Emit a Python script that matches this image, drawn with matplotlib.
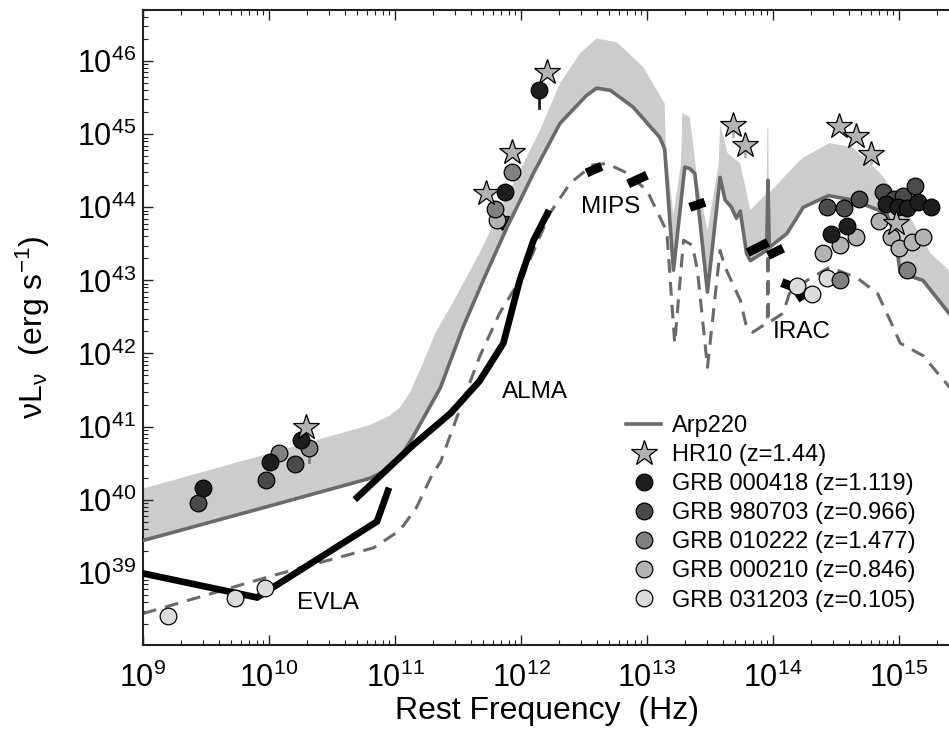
import numpy as np
import matplotlib
matplotlib.use("Agg")
import matplotlib.pyplot as plt
from matplotlib.lines import Line2D
from matplotlib.ticker import FixedLocator, LogLocator, NullFormatter, LogFormatterSciNotation

plt.rcParams['font.family'] = ['Liberation Sans', 'DejaVu Sans']
plt.rcParams['mathtext.fontset'] = 'custom'
plt.rcParams['mathtext.rm'] = 'Liberation Sans'
plt.rcParams['mathtext.it'] = 'Liberation Sans:italic'

# ---------------- data (log10 frequency [Hz], log10 nuL_nu [erg/s]) ----------------
arp_lx = [9.0, 10.0, 10.80, 10.95, 11.05, 11.14, 11.36, 11.54, 11.70, 11.89, 12.10, 12.31,
          12.52, 12.60, 12.71, 12.89, 13.10, 13.14, 13.21, 13.30, 13.34, 13.38, 13.48, 13.58,
          13.62, 13.67, 13.71, 13.74, 13.79, 13.82, 13.95, 13.96, 13.97, 14.11, 14.19, 14.24,
          14.44, 14.63, 14.90, 14.97, 15.01, 15.19, 15.42]
arp_ly = [39.44, 39.91, 40.29, 40.42, 40.60, 40.85, 41.53, 42.36, 43.00, 43.73, 44.47, 45.15,
          45.53, 45.63, 45.60, 45.37, 44.96, 44.80, 43.14, 44.55, 44.53, 44.46, 42.84, 44.41,
          44.10, 44.00, 43.85, 43.95, 43.37, 43.27, 43.41, 44.37, 43.45, 43.64, 43.86, 44.00,
          44.16, 44.10, 43.92, 43.60, 43.10, 43.00, 42.50]

band_lx = [9.0, 10.0, 10.80, 10.95, 11.04, 11.12, 11.22, 11.32, 11.47, 11.67, 11.94, 12.15,
           12.31, 12.47, 12.60, 12.76, 12.97, 13.14, 13.15, 13.21, 13.27, 13.28, 13.34, 13.40,
           13.48, 13.57, 13.58, 13.64, 13.74, 13.82, 13.95, 13.955, 13.962, 13.967, 14.19,
           14.24, 14.45, 14.63, 14.85, 15.01, 15.25, 15.42]
band_ly = [40.15, 40.63, 41.02, 41.14, 41.26, 41.47, 41.86, 42.28, 42.73, 43.37, 44.33, 45.05,
           45.70, 46.11, 46.31, 46.26, 45.92, 45.42, 44.82, 43.90, 44.60, 45.29, 45.23, 44.37,
           43.68, 44.60, 45.15, 44.74, 44.60, 43.96, 44.19, 45.08, 45.08, 44.19, 44.60,
           44.68, 44.88, 44.82, 44.47, 44.10, 43.37, 43.10]

dash_lx = [9.0, 10.03, 10.83, 11.04, 11.17, 11.30, 11.36, 11.52, 11.67, 11.83, 11.94, 12.00,
           12.23, 12.39, 12.57, 12.68, 12.84, 13.00, 13.14, 13.16, 13.22, 13.29, 13.36, 13.40,
           13.48, 13.58, 13.62, 13.74, 13.79, 13.84, 13.955, 13.96, 13.965, 14.08, 14.13,
           14.27, 14.45, 14.67, 14.83, 14.93, 15.01, 15.19, 15.42]
dash_ly = [38.44, 38.96, 39.34, 39.58, 39.89, 40.36, 40.51, 41.26, 41.95, 42.55, 42.86, 43.00,
           43.92, 44.33, 44.58, 44.60, 44.47, 44.23, 43.73, 43.60, 42.14, 43.55, 43.48, 43.14,
           41.81, 43.41, 43.18, 42.73, 42.36, 42.29, 42.42, 43.37, 42.42, 42.55, 42.82,
           43.00, 43.18, 43.03, 42.82, 42.45, 42.14, 41.97, 41.50]

evla_lx = [9.0, 9.905, 10.857, 10.944]
evla_ly = [38.99, 38.66, 39.70, 40.12]
alma_lx = [10.70, 11.14, 11.44, 11.67, 11.86, 11.99, 12.10, 12.21]
alma_ly = [40.03, 40.74, 41.18, 41.62, 42.14, 43.00, 43.55, 43.92]

mips_lx = [(12.52, 12.64), (12.85, 13.00), (13.34, 13.46)]
mips_ly = [(44.47, 44.56), (44.32, 44.44), (44.00, 44.07)]
irac_lx = [(13.80, 13.96), (13.96, 14.08), (14.07, 14.19), (14.19, 14.27)]
irac_ly = [(43.38, 43.52), (43.34, 43.44), (42.97, 42.89), (42.75, 42.84)]

hr10_lx = [10.29, 11.72, 11.93, 12.21, 13.68, 13.78, 14.52, 14.66, 14.78, 14.98]
hr10_ly = [41.00, 44.19, 44.75, 45.85, 45.12, 44.85, 45.11, 44.97, 44.73, 43.79]

g000418_lx = [9.48, 10.01, 10.25, 11.87, 12.14, 14.46, 14.59, 14.90, 14.99, 15.06, 15.15, 15.25]
g000418_ly = [40.16, 40.51, 40.81, 44.21, 45.60, 43.64, 43.75, 44.05, 44.01, 43.99, 44.07, 44.01]

g980703_lx = [9.44, 9.98, 10.21, 14.43, 14.56, 14.68, 14.87, 14.96, 15.03, 15.13]
g980703_ly = [39.96, 40.27, 40.49, 44.00, 43.99, 44.12, 44.21, 44.11, 44.15, 44.29]

g010222_lx = [10.08, 10.32, 11.79, 11.93, 14.53, 15.06]
g010222_ly = [40.64, 40.71, 43.97, 44.48, 43.01, 43.14]

g000210_lx = [11.81, 14.40, 14.53, 14.66, 14.84, 14.94, 15.00, 15.10, 15.19]
g000210_ly = [43.82, 43.37, 43.48, 43.60, 43.81, 43.60, 43.44, 43.53, 43.60]

g031203_lx = [9.20, 9.73, 9.97, 14.19, 14.31, 14.43]
g031203_ly = [38.41, 38.66, 38.79, 42.92, 42.82, 43.03]

# upper limit (triangle) and error bars
ulim_lx, ulim_ly = [11.85], [43.78]
err_lx = [12.14, 11.87, 10.32, 13.68, 13.78, 14.78]
err_lo = [45.36, 44.12, 40.52, 44.98, 44.70, 44.60]
err_hi = [45.60, 44.21, 40.71, 45.12, 44.85, 44.73]
err_col = ['#1e1e1e', '#1e1e1e', '#808080', '#b3b3b3', '#b3b3b3', '#b3b3b3']

labels = ['Arp220', 'HR10 (z=1.44)', 'GRB 000418 (z=1.119)', 'GRB 980703 (z=0.966)',
          'GRB 010222 (z=1.477)', 'GRB 000210 (z=0.846)', 'GRB 031203 (z=0.105)']
grb_colors = ['#1e1e1e', '#4a4a4a', '#808080', '#b3b3b3', '#dcdcdc']

x_decades = [9, 10, 11, 12, 13, 14, 15]
y_decades = [39, 40, 41, 42, 43, 44, 45, 46]

P = lambda a: 10 ** np.asarray(a, dtype=float)

# ---------------- figure ----------------
W, H = 949, 732
fig = plt.figure(figsize=(W / 100, H / 100), dpi=100)
ax = fig.add_axes([143 / W, 1 - 645 / H, 808 / W, 635 / H])
ax.set_xscale('log')
ax.set_yscale('log')
ax.set_xlim(1e9, 10 ** (9 + 808 / 126))
ax.set_ylim(10 ** 38.01, 10 ** 46.70)

# band
bx = np.r_[P(band_lx), P(arp_lx)[::-1]]
by = np.r_[P(band_ly), P(arp_ly)[::-1]]
ax.fill(bx, by, color='#cccccc', lw=0, zorder=1)

ax.plot(P(dash_lx), P(dash_ly), color='#6a6a6a', lw=2.2, ls=(0, (4.5, 3)), zorder=2)
ax.plot(P(arp_lx), P(arp_ly), color='#6a6a6a', lw=2.6, zorder=3)

ax.plot(P(evla_lx), P(evla_ly), color='black', lw=4.8, solid_joinstyle='miter', zorder=4)
ax.plot(P(alma_lx), P(alma_ly), color='black', lw=4.8, zorder=4)
for xs, ys in zip(mips_lx + irac_lx, mips_ly + irac_ly):
    ax.plot(P(xs), P(ys), color='black', lw=6.5, solid_capstyle='butt', zorder=4)

# error bars
for x, lo, hi, c in zip(err_lx, err_lo, err_hi, err_col):
    ax.plot([10 ** x, 10 ** x], [10 ** lo, 10 ** hi], color=c, lw=2, zorder=5)

mk = dict(ls='none', mec='black', mew=0.9, zorder=6)
ax.plot(P(ulim_lx), P(ulim_ly), marker='v', ms=10, mfc='#4a4a4a', **mk)
series = [(g031203_lx, g031203_ly), (g000210_lx, g000210_ly), (g010222_lx, g010222_ly),
          (g980703_lx, g980703_ly), (g000418_lx, g000418_ly)]
for (xs, ys), c in zip(series, grb_colors[::-1]):
    ax.plot(P(xs), P(ys), marker='o', ms=12, mfc=c, **mk)
ax.plot(P(hr10_lx), P(hr10_ly), marker='*', ms=19, mfc='#b3b3b3', **mk)

# annotations
txt = dict(fontsize=17.5, ha='left', va='center')
ax.text(10 ** 10.22, 10 ** 38.59, 'EVLA', **txt)
ax.text(10 ** 11.85, 10 ** 41.47, 'ALMA', **txt)
ax.text(10 ** 12.48, 10 ** 44.0, 'MIPS', **txt)
ax.text(10 ** 14.0, 10 ** 42.29, 'IRAC', **txt)

# legend
handles = [Line2D([], [], color='#6a6a6a', lw=2.6),
           Line2D([], [], marker='*', ms=19, mfc='#b3b3b3', mec='black', mew=0.9, ls='none')]
handles += [Line2D([], [], marker='o', ms=12, mfc=c, mec='black', mew=0.9, ls='none')
            for c in grb_colors]
fig.legend(handles, labels, loc='upper left', bbox_to_anchor=(626 / W, 1 - 415 / H),
           frameon=False, fontsize=17, borderpad=0, borderaxespad=0, labelspacing=0.3,
           handlelength=1.5, handletextpad=0.45)

# axes styling
ax.set_xlabel('Rest Frequency  (Hz)', fontsize=23)
ax.set_ylabel('νL$_\\mathregular{ν}$  (erg s$^\\mathregular{-1}$)', fontsize=23)
ax.xaxis.set_label_coords(0.5, -0.080)
ax.yaxis.set_label_coords(-0.113, 0.5)

ax.xaxis.set_major_locator(FixedLocator(P(x_decades)))
ax.yaxis.set_major_locator(FixedLocator(P(y_decades)))
ax.xaxis.set_major_formatter(LogFormatterSciNotation())
ax.yaxis.set_major_formatter(LogFormatterSciNotation())
ax.xaxis.set_minor_locator(LogLocator(base=10, subs=np.arange(2, 10), numticks=50))
ax.yaxis.set_minor_locator(LogLocator(base=10, subs=np.arange(2, 10), numticks=50))
ax.xaxis.set_minor_formatter(NullFormatter())
ax.yaxis.set_minor_formatter(NullFormatter())
ax.tick_params(which='both', direction='in', top=True, right=False, labelsize=22, color='#222222')
ax.tick_params(which='major', length=7, width=1)
ax.tick_params(which='minor', length=3.5, width=0.8)
ax.tick_params(axis='x', pad=13)
ax.tick_params(axis='y', pad=5)
for s in ax.spines.values():
    s.set_linewidth(1.5)
    s.set_color('#222222')

fig.savefig('out.png', dpi=100)
